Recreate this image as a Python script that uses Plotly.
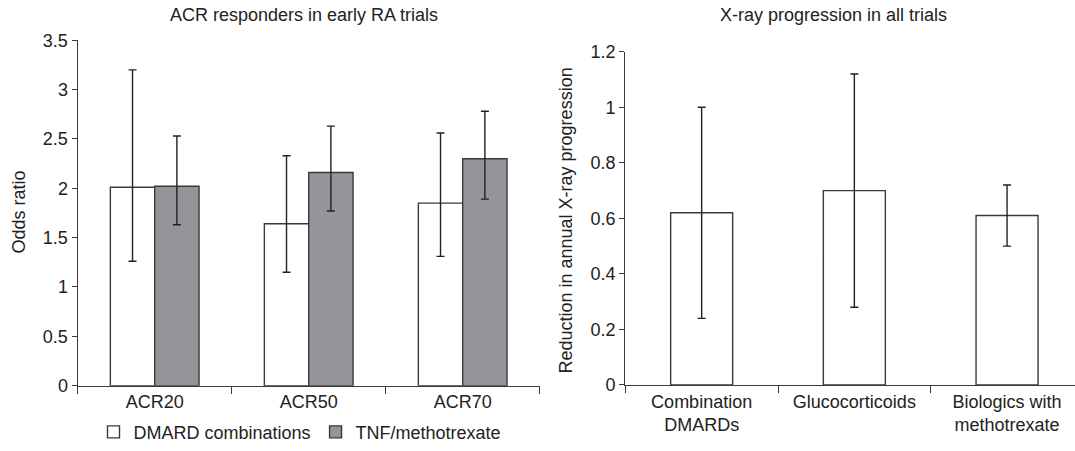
import plotly.graph_objects as go

# ---- data ----
acr_cats = ["ACR20", "ACR50", "ACR70"]
dmard_or = [2.01, 1.64, 1.85]
dmard_lo = [1.26, 1.15, 1.31]
dmard_hi = [3.20, 2.33, 2.56]
tnf_or = [2.02, 2.16, 2.30]
tnf_lo = [1.63, 1.77, 1.89]
tnf_hi = [2.53, 2.63, 2.78]

xray_cats = ["Combination<br>DMARDs", "Glucocorticoids", "Biologics with<br>methotrexate"]
xray_val = [0.62, 0.70, 0.61]
xray_lo = [0.24, 0.28, 0.50]
xray_hi = [1.00, 1.12, 0.72]

W, H = 1075, 451
FONT = "Liberation Sans, Arial, sans-serif"
TXT = "#222222"
LINE = "#3a3a3a"
GREY = "#939598"
FS = 18


def err(vals, lo, hi):
    return dict(type="data", symmetric=False,
                array=[h - v for v, h in zip(vals, hi)],
                arrayminus=[v - l for v, l in zip(vals, lo)],
                color="#222222", thickness=1.4, width=4)


def px_x(p):  # reference pixel -> paper fraction
    return p / W


def px_y(p):
    return (H - p) / H


fig = go.Figure()
bw_l = 0.288
fig.add_trace(go.Bar(x=acr_cats, y=dmard_or, name="DMARD combinations",
                     width=bw_l, offset=-bw_l,
                     marker=dict(color="white", line=dict(color=LINE, width=1.4)),
                     error_y=err(dmard_or, dmard_lo, dmard_hi),
                     xaxis="x", yaxis="y"))
fig.add_trace(go.Bar(x=acr_cats, y=tnf_or, name="TNF/methotrexate",
                     width=bw_l, offset=0,
                     marker=dict(color=GREY, line=dict(color=LINE, width=1.4)),
                     error_y=err(tnf_or, tnf_lo, tnf_hi),
                     xaxis="x", yaxis="y"))
bw_r = 0.406
fig.add_trace(go.Bar(x=xray_cats, y=xray_val, name="X-ray", showlegend=False,
                     width=bw_r, offset=-bw_r / 2,
                     marker=dict(color="white", line=dict(color=LINE, width=1.4)),
                     error_y=err(xray_val, xray_lo, xray_hi),
                     xaxis="x2", yaxis="y2"))

axis_common = dict(showline=True, linecolor=LINE, linewidth=1.4, showgrid=False,
                   zeroline=False, ticks="outside", tickcolor=LINE, tickwidth=1.2,
                   tickfont=dict(family=FONT, size=FS, color=TXT), automargin=False)

fig.update_layout(
    width=W, height=H,
    margin=dict(l=0, r=0, t=0, b=0),
    paper_bgcolor="white", plot_bgcolor="white",
    barmode="overlay",
    font=dict(family=FONT, size=FS, color=TXT),
    xaxis=dict(domain=[px_x(77.7), px_x(539.7)], anchor="y", range=[-0.5, 2.5],
               type="category", tickson="boundaries", ticklen=7, **axis_common),
    yaxis=dict(domain=[px_y(390), px_y(40.7)], anchor="x", range=[0, 3.5],
               tickvals=[0, 0.5, 1, 1.5, 2, 2.5, 3, 3.5],
               ticktext=["0", "0.5", "1", "1.5", "2", "2.5", "3", "3.5"],
               ticklen=5, **axis_common),
    xaxis2=dict(domain=[px_x(625.3), 1.0], anchor="y2", range=[-0.5, 2.445],
                type="category", tickson="boundaries", ticklen=7, **axis_common),
    yaxis2=dict(domain=[px_y(389.3), px_y(52.3)], anchor="x2", range=[0, 1.2],
                tickvals=[0, 0.2, 0.4, 0.6, 0.8, 1.0, 1.2],
                ticktext=["0", "0.2", "0.4", "0.6", "0.8", "1", "1.2"],
                ticklen=5, **axis_common),
    legend=dict(orientation="h", x=px_x(300), xanchor="center",
                y=px_y(437), yanchor="middle",
                font=dict(family=FONT, size=FS, color=TXT),
                bgcolor="rgba(0,0,0,0)", itemwidth=30, tracegroupgap=0),
    showlegend=True,
    annotations=[
        dict(text="ACR responders in early RA trials", x=px_x(304), y=px_y(15),
             xanchor="center", yanchor="middle",
             xref="paper", yref="paper", showarrow=False,
             font=dict(family=FONT, size=FS, color=TXT)),
        dict(text="X-ray progression in all trials", x=px_x(833), y=px_y(15),
             xanchor="center", yanchor="middle",
             xref="paper", yref="paper", showarrow=False,
             font=dict(family=FONT, size=FS, color=TXT)),
        dict(text="Odds ratio", x=px_x(19), y=px_y(215), textangle=-90,
             xanchor="center", yanchor="middle",
             xref="paper", yref="paper", showarrow=False,
             font=dict(family=FONT, size=FS, color=TXT)),
        dict(text="Reduction in annual X-ray progression", x=px_x(566), y=px_y(223),
             textangle=-90, xanchor="center", yanchor="middle",
             xref="paper", yref="paper", showarrow=False,
             font=dict(family=FONT, size=FS, color=TXT)),
    ],
)

fig.write_html(
    "out.html",
    config={"displayModeBar": False},
    post_script="document.body.style.margin='0';document.body.style.overflow='hidden';",
)
